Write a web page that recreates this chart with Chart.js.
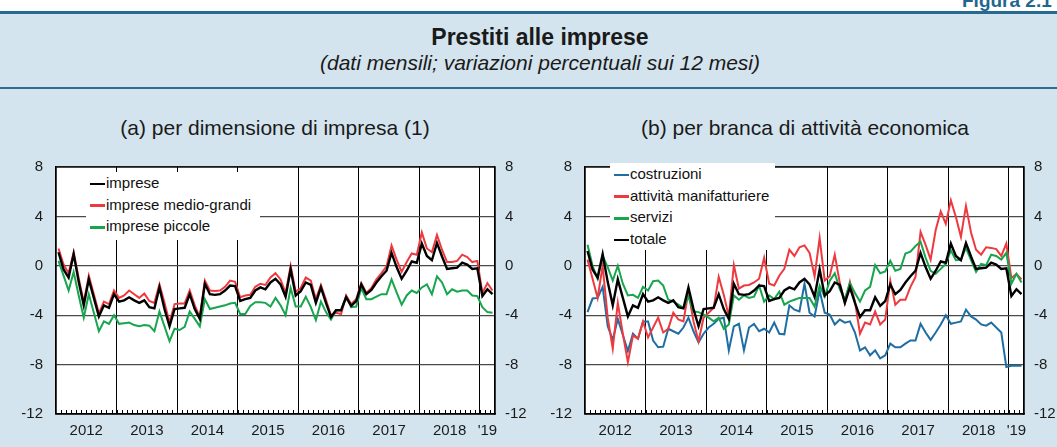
<!DOCTYPE html>
<html lang="it">
<head>
<meta charset="utf-8">
<title>Prestiti alle imprese</title>
<script src="https://cdn.jsdelivr.net/npm/chart.js@4.4.1/dist/chart.umd.min.js"></script>
<style>
  html, body { margin: 0; padding: 0; }
  body { width: 1057px; height: 447px; overflow: hidden; background: #fff; position: relative;
         font-family: "Liberation Sans", Arial, sans-serif; }
  .abs { position: absolute; }
  #panel { left: 0; top: 13px; width: 1057px; height: 434px; background: #d3e4ee; }
  #riga1 { left: 0; top: 11px; width: 1057px; height: 3px; background: #246a93; }
  #riga2 { left: 0; top: 87px; width: 1057px; height: 2px; background: #2e6e94; }
  #figura { left: 962px; top: -10px; font-weight: bold; font-size: 19px; color: #1f6691; white-space: nowrap; }
  #titolo { left: 0; width: 1080px; top: 24px; text-align: center; font-weight: bold; font-size: 23px; line-height: 26px; color: #1a1a1a; }
  #sottotitolo { left: 0; width: 1080px; top: 51px; text-align: center; font-style: italic; font-size: 21px; line-height: 24px; color: #1a1a1a; }
  .tit { top: 116px; width: 550px; text-align: center; font-size: 21px; line-height: 24px; color: #1a1a1a; }
  .box { position: absolute; }
  .leg { position: absolute; background: #fff; font-size: 15px; color: #111; }
  .leg div { height: 21.7px; line-height: 21.7px; white-space: nowrap; }
  .leg span { display: inline-block; width: 15px; height: 2.5px; vertical-align: middle; margin: 0 1px 0 4px; }
</style>
</head>
<body>
<div id="panel" class="abs"></div>
<div id="riga1" class="abs"></div>
<div id="riga2" class="abs"></div>
<div id="figura" class="abs">Figura 2.1</div>
<div id="titolo" class="abs">Prestiti alle imprese</div>
<div id="sottotitolo" class="abs">(dati mensili; variazioni percentuali sui 12 mesi)</div>
<div class="abs tit" style="left:0">(a) per dimensione di impresa (1)</div>
<div class="abs tit" style="left:530px">(b) per branca di attività economica</div>

<div class="box" style="left:0;top:145px;width:528px;height:302px"><canvas id="chartA" width="528" height="302"></canvas></div>
<div class="box" style="left:528px;top:145px;width:529px;height:302px"><canvas id="chartB" width="529" height="302"></canvas></div>

<div class="leg" id="legA" style="left:86px;top:172px;width:174px;height:68px;padding-top:0"></div>
<div class="leg" id="legB" style="left:610px;top:163px;width:165px;height:87px"></div>

<script>
// mesi da gennaio 2012 a marzo 2019
const anni = ['2012', '2013', '2014', '2015', '2016', '2017', '2018', "'19"];
const mesi = [];
for (let a = 2012; a <= 2019; a++) {
    for (let m = 1; m <= 12; m++) {
        if (a === 2019 && m > 3) break;
        mesi.push(a + '-' + String(m).padStart(2, '0'));
    }
}

// (a) per dimensione di impresa
const imprese = [1.1, -0.3, -0.95, 0.95, -1.3, -3.2, -1.1, -2.6, -4.1, -3.2, -3.4, -2.3,
    -2.9, -2.8, -2.55, -2.8, -3.0, -2.8, -3.35, -3.45, -1.75, -3.5, -4.9, -3.5,
    -3.45, -3.4, -2.3, -3.5, -4.3, -1.45, -2.3, -2.35, -2.3, -2.0, -1.6, -1.65,
    -2.85, -2.7, -2.6, -2.0, -1.75, -1.9, -1.35, -1.05, -1.5, -2.5, -0.3, -2.4,
    -2.05, -1.35, -1.55, -3.0, -1.75, -3.0, -4.15, -3.6, -3.6, -2.55, -3.25, -2.85,
    -1.5, -2.3, -1.95, -1.35, -0.85, -0.4, 1.05, -0.1, -1.05, -0.4, 0.35, 0.25,
    1.8, 0.8, 0.45, 1.85, 0.75, -0.25, -0.2, -0.15, 0.25, 0.1, -0.25, -0.2,
    -2.45, -1.9, -2.3];
const medioGrandi = [1.4, 0.1, -0.6, 1.1, -1.0, -2.95, -0.8, -2.3, -3.85, -2.9, -3.1, -2.0,
    -2.6, -2.4, -2.0, -2.3, -2.6, -2.25, -2.85, -3.0, -1.5, -3.0, -4.6, -3.1,
    -3.05, -3.05, -2.0, -3.2, -4.15, -1.2, -2.0, -2.05, -2.0, -1.7, -1.2, -1.3,
    -2.55, -2.4, -2.35, -1.7, -1.45, -1.55, -0.95, -0.6, -1.1, -2.2, 0.0, -2.1,
    -1.8, -0.95, -1.2, -2.7, -1.55, -2.75, -4.0, -3.8, -3.9, -2.4, -3.1, -2.7,
    -1.4, -2.2, -1.8, -1.1, -0.6, -0.05, 1.65, 0.5, -0.5, 0.3, 1.0, 0.9,
    2.7, 1.4, 1.1, 2.5, 1.3, 0.3, 0.3, 0.4, 0.9, 0.7, 0.3, 0.4,
    -2.2, -1.4, -2.0];
const piccole = [0.4, -0.8, -2.0, -0.5, -2.4, -4.2, -2.3, -3.8, -5.3, -4.5, -4.7, -4.0,
    -4.7, -4.65, -4.6, -4.8, -4.9, -4.8, -4.85, -5.3, -3.7, -4.9, -6.1, -5.1,
    -5.2, -4.95, -3.7, -4.3, -4.9, -2.7, -3.5, -3.4, -3.3, -3.2, -3.05, -3.0,
    -3.9, -3.9, -3.25, -2.95, -2.95, -3.0, -3.3, -2.6, -3.2, -4.0, -1.8, -3.3,
    -3.3, -2.5, -3.35, -4.4, -2.9, -3.75, -4.35, -3.6, -3.6, -2.45, -3.35, -3.3,
    -1.8, -2.7, -2.7, -2.5, -2.3, -2.3, -1.1, -2.15, -3.15, -2.4, -2.0, -2.2,
    -1.75, -1.5, -2.3, -0.85, -1.35, -2.3, -1.9, -2.1, -2.0, -2.0, -2.4, -2.45,
    -3.35, -3.75, -3.8];

// (b) per branca di attività economica
const costruzioni = [-3.75, -2.65, -2.6, -1.7, -4.9, -6.0, -4.3, -5.6, -6.9, -5.5, -5.9, -4.5,
    -4.5, -6.05, -6.6, -6.55, -5.1, -5.3, -5.5, -5.0, -4.2, -5.3, -6.2, -5.5,
    -5.0, -4.7, -4.3, -4.2, -6.85, -4.9, -4.7, -6.85, -5.0, -4.7, -5.3, -5.1,
    -5.4, -4.6, -5.5, -5.55, -3.2, -3.55, -3.7, -1.45, -3.8, -4.1, -2.0, -3.8,
    -3.95, -4.75, -4.35, -4.6, -4.5, -5.4, -6.85, -6.6, -7.25, -6.85, -7.5, -7.25,
    -6.3, -6.6, -6.6, -6.3, -6.05, -6.05, -4.7, -5.4, -6.0, -5.4, -4.75, -4.0,
    -4.7, -4.6, -4.5, -3.55, -4.1, -4.35, -4.75, -4.85, -4.6, -5.0, -5.4, -8.2,
    -8.1, -8.1, -8.1];
const manifatturiere = [0.5, -1.05, -2.6, 0.0, -4.2, -6.7, -3.0, -5.5, -7.8, -5.65, -5.9, -4.5,
    -5.8, -5.0, -4.2, -5.4, -5.1, -3.8, -4.35, -4.5, -2.1, -4.5, -6.1, -4.2,
    -3.8, -3.4, -0.9, -2.35, -4.1, 0.05, -1.85, -1.6, -1.55, -1.35, -1.05, 0.65,
    -1.45, -1.6, -0.8, -0.25, 1.3, 0.8, 1.5, 1.65, 1.05, -0.85, 2.25, -1.2,
    -0.85, 0.9, -1.4, -3.0, -1.3, -2.9, -5.5, -4.6, -4.75, -3.7, -4.75, -4.35,
    -1.2, -3.15, -2.75, -2.75, -1.7, -0.9, 2.75, 1.7, 0.5, 2.9, 4.4, 3.4,
    5.3, 3.95, 2.35, 4.85, 2.7, 1.3, 0.9, 1.5, 1.45, 1.35, 0.8, 1.8,
    -1.0, -0.65, -1.1];
const servizi = [1.7, 0.0, -1.05, 0.8, -0.1, -1.2, 0.0, -1.45, -2.4, -2.35, -2.6, -1.7,
    -2.0, -1.25, -1.2, -1.6, -2.75, -2.9, -3.15, -3.4, -2.5, -3.7, -3.75, -3.95,
    -4.2, -4.5, -4.2, -5.1, -4.75, -2.4, -2.75, -2.4, -2.6, -2.5, -1.6, -2.9,
    -2.4, -2.7, -2.1, -3.15, -2.9, -2.75, -2.6, -2.6, -2.6, -3.3, -1.6, -2.5,
    -1.2, -0.6, -1.9, -2.7, -1.4, -2.2, -2.9, -2.0, -1.7, 0.05, -0.6, -0.45,
    0.4, -0.4, -0.25, 1.0, 1.15, 1.6, 1.95, 0.65, -0.4, -0.65, -0.25, 0.15,
    1.25, 0.45, 0.5, 1.45, 0.45, -0.5, 0.15, 0.05, 0.9, 0.8, 0.5, 1.05,
    -1.45, -0.65, -1.35];
const totale = [1.2, -0.3, -0.95, 0.95, -1.3, -3.2, -1.1, -2.6, -4.1, -3.2, -3.4, -2.3,
    -2.9, -2.8, -2.55, -2.8, -3.0, -2.8, -3.35, -3.45, -1.75, -3.5, -4.9, -3.5,
    -3.45, -3.4, -2.3, -3.5, -4.3, -1.45, -2.3, -2.35, -2.3, -2.0, -1.6, -1.65,
    -2.85, -2.7, -2.6, -2.0, -1.75, -1.9, -1.35, -1.05, -1.5, -2.5, -0.3, -2.4,
    -2.05, -1.35, -1.55, -3.0, -1.75, -3.0, -4.15, -3.6, -3.6, -2.55, -3.25, -2.85,
    -1.5, -2.3, -1.95, -1.35, -0.85, -0.4, 1.05, -0.1, -1.05, -0.4, 0.35, 0.25,
    1.8, 0.8, 0.45, 1.85, 0.75, -0.25, -0.2, -0.15, 0.25, 0.1, -0.25, -0.2,
    -2.45, -1.9, -2.3];

const yTicks = [-12, -8, -4, 0, 4, 8];

const NERO = '#000000', ROSSO = '#ee3a3f', VERDE = '#17a54d', BLU = '#1f6ea3';
const FONT = { family: '"Liberation Sans", Arial, sans-serif', size: 15 };

// punti al centro del mese
function punti(valori) {
    return valori.map((v, i) => ({ x: i + 0.5, y: v }));
}

// sfondo bianco, cornice e tacche mensili
const cornice = {
    id: 'cornice',
    beforeDraw(chart) {
        const a = chart.chartArea, c = chart.ctx;
        c.save();
        c.fillStyle = '#fff';
        c.fillRect(a.left, a.top, a.right - a.left, a.bottom - a.top);
        c.restore();
    },
    beforeDatasetsDraw(chart) {
        const a = chart.chartArea, c = chart.ctx, x = chart.scales.x;
        c.save();
        c.strokeStyle = '#000';
        c.lineWidth = 1;
        c.beginPath();
        for (let i = 1; i < mesi.length; i++) {
            const px = Math.round(x.getPixelForValue(i)) + 0.5;
            c.moveTo(px, a.bottom);
            c.lineTo(px, a.bottom - 4);
        }
        c.stroke();
        c.restore();
    },
    afterDatasetsDraw(chart) {
        const a = chart.chartArea, c = chart.ctx;
        c.save();
        c.strokeStyle = '#000';
        c.lineWidth = 1.3;
        c.strokeRect(a.left, a.top, a.right - a.left, a.bottom - a.top);
        c.restore();
    }
};

function opzioni(sx) {
    const tickVals = [0];
    anni.forEach((lab, k) => {
        tickVals.push(k < 7 ? k * 12 + 6 : 85.5);
        if (k < 7) tickVals.push((k + 1) * 12);
    });
    tickVals.push(mesi.length);
    return {
        responsive: false,
        animation: false,
        events: [],
        layout: { padding: { top: 15 } },
        plugins: { legend: { display: false }, tooltip: { enabled: false } },
        elements: { point: { radius: 0 }, line: { tension: 0, borderWidth: 2 } },
        scales: {
            x: {
                type: 'linear', min: 0, max: mesi.length,
                afterBuildTicks: s => { s.ticks = tickVals.map(v => ({ value: v })); },
                afterFit: s => { s.height = 33; },
                grid: {
                    drawTicks: false, lineWidth: 1,
                    color: ctx => (ctx.tick && ctx.tick.value % 12 === 0 && ctx.tick.value > 0 && ctx.tick.value < mesi.length) ? '#000' : 'rgba(0,0,0,0)'
                },
                border: { display: true, color: '#000', width: 1.3 },
                ticks: {
                    autoSkip: false, maxRotation: 0, padding: 8, color: '#1a1a1a', font: FONT,
                    callback: v => {
                        if (v === 85.5) return anni[7];
                        if ((v - 6) % 12 === 0) return anni[(v - 6) / 12];
                        return '';
                    }
                }
            },
            y: {
                position: 'left', min: -12, max: 8,
                afterBuildTicks: s => { s.ticks = yTicks.map(v => ({ value: v })); },
                afterFit: s => { s.width = sx; },
                grid: { drawTicks: false, color: '#4a4a4a', lineWidth: 1.2 },
                border: { color: '#000', width: 1.3 },
                ticks: { padding: 13, color: '#1a1a1a', font: FONT }
            },
            y2: {
                position: 'right', min: -12, max: 8,
                afterBuildTicks: s => { s.ticks = yTicks.map(v => ({ value: v })); },
                afterFit: s => { s.width = 33; },
                grid: { display: false, drawTicks: false },
                border: { color: '#000', width: 1.3 },
                ticks: { padding: 10, color: '#1a1a1a', font: FONT }
            }
        }
    };
}

function serie(label, valori, colore, ordine, spessore) {
    return {
        label: label, data: punti(valori), borderColor: colore, backgroundColor: colore,
        borderWidth: spessore || 2, order: ordine, yAxisID: 'y', fill: false
    };
}

const datasetsA = [
    serie('imprese', imprese, NERO, 0, 2.4),
    serie('imprese medio-grandi', medioGrandi, ROSSO, 1),
    serie('imprese piccole', piccole, VERDE, 2)
];
const datasetsB = [
    serie('costruzioni', costruzioni, BLU, 3),
    serie('attività manifatturiere', manifatturiere, ROSSO, 2),
    serie('servizi', servizi, VERDE, 1),
    serie('totale', totale, NERO, 0, 2.4)
];

new Chart(document.getElementById('chartA'), {
    type: 'line', data: { datasets: datasetsA }, options: opzioni(56), plugins: [cornice]
});
new Chart(document.getElementById('chartB'), {
    type: 'line', data: { datasets: datasetsB }, options: opzioni(57), plugins: [cornice]
});

// legende dentro l'area del grafico
function legenda(id, datasets) {
    const box = document.getElementById(id);
    datasets.forEach(d => {
        const r = document.createElement('div');
        const s = document.createElement('span');
        s.style.background = d.borderColor;
        r.appendChild(s);
        r.appendChild(document.createTextNode(d.label));
        box.appendChild(r);
    });
}
legenda('legA', datasetsA);
legenda('legB', datasetsB);
</script>
</body>
</html>
